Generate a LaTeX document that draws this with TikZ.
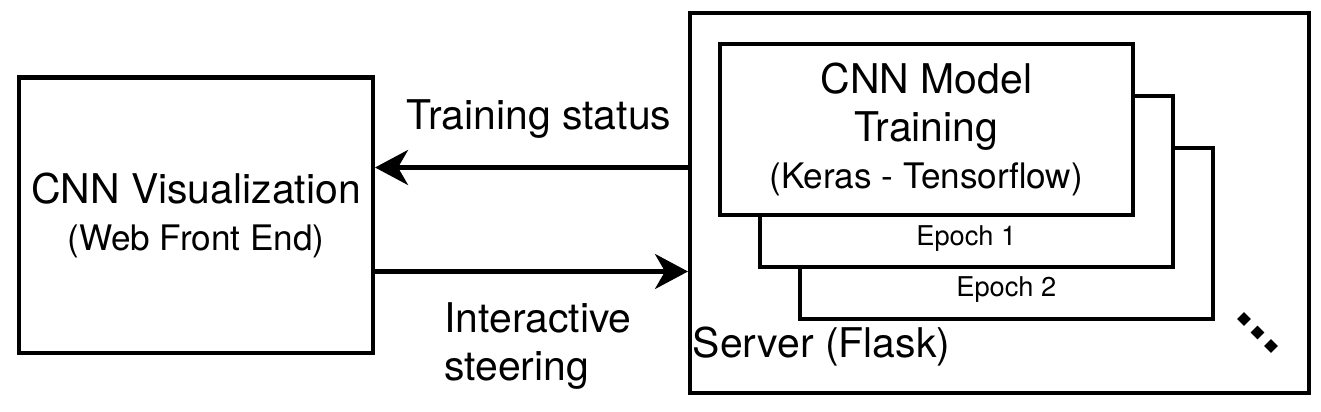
\documentclass[tikz,border=0pt]{standalone}
\usepackage{fontspec}
\setmainfont{TeX Gyre Heros}
\usepackage{tikz}
\usetikzlibrary{shapes.geometric, arrows.meta, positioning, calc}
\definecolor{ink}{HTML}{000000}
\newcommand{\bigtxt}{\fontsize{23.3}{27}\selectfont}
\newcommand{\midtxt}{\fontsize{20}{23}\selectfont}
\newcommand{\smalltxt}{\fontsize{15.5}{18}\selectfont}
\tikzset{
  box/.style     ={draw=ink, line width=2.3pt, fill=white, align=center,
                   inner sep=0pt, font=\bigtxt},
  vizbox/.style  ={box, minimum width=7.08cm,  minimum height=5.51cm},
  srvbox/.style  ={box, minimum width=12.38cm, minimum height=7.6cm},
  stackbox/.style={box, minimum width=8.25cm,  minimum height=3.42cm},
  flow/.style    ={-{Stealth[length=0.66cm,width=0.7cm,inset=0.2cm]},
                   line width=2.3pt, draw=ink},
  lbl/.style     ={font=\bigtxt, inner sep=0pt, align=left},
  eplbl/.style   ={font=\smalltxt, inner sep=0pt},
  ellip/.style   ={diamond, fill=ink, minimum size=0.28cm, inner sep=0pt}
}

\begin{document}
\begin{tikzpicture}
  \useasboundingbox (0,0) rectangle (26.42,-8.24);

  \node[vizbox] (viz) at (3.92,-4.305) {CNN Visualization\\{\midtxt (Web Front End)}};
  \node[srvbox] (srv) at (19.99,-4.06) {};

  \node[stackbox] (ep2)   at (20.126,-4.67) {};
  \node[stackbox] (ep1)   at ([shift={(-0.8,1.04)}]ep2.center) {};
  \node[stackbox] (model) at ([shift={(-0.8,1.04)}]ep1.center)
       {CNN Model\\Training\\{\midtxt (Keras - Tensorflow)}};
  \node[eplbl] (ep1lbl) at ([yshift=0.61cm]ep1.south) {Epoch 1};
  \node[eplbl] (ep2lbl) at ([yshift=0.63cm]ep2.south) {Epoch 2};

  \node[lbl, anchor=base west] (srvlbl) at ([shift={(0.09,0.76)}]srv.south west) {Server (Flask)};
  \foreach \i in {0,1,2}
    \node[ellip] (dot\i) at ($(srv.south east)+(-1.34+0.27*\i,1.52-0.27*\i)$) {};

  \coordinate (stat)  at ([yshift=0.955cm]viz.east);
  \coordinate (steer) at ([yshift=-1.125cm]viz.east);
  \draw[flow] (srv.west |- stat) -- (stat);
  \draw[flow] (steer) -- (srv.west |- steer);

  \node[lbl, anchor=base] (tstat) at (10.78,-2.6) {Training status};
  \node[lbl, anchor=west] (isteer) at (8.88,-6.92) {Interactive\\steering};
\end{tikzpicture}
\end{document}
